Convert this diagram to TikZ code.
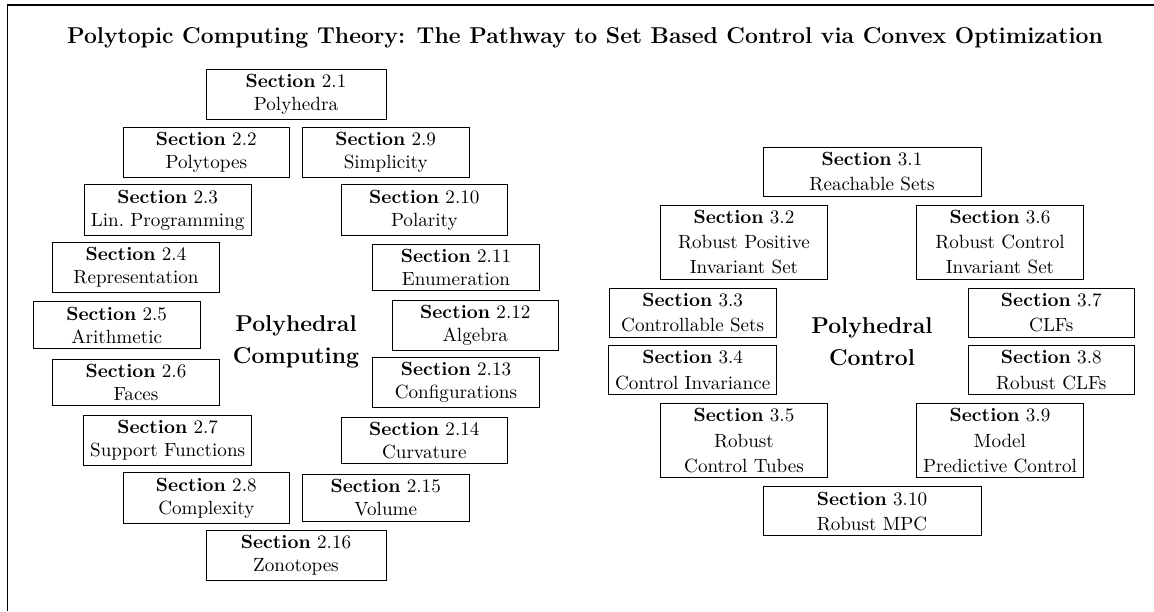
\documentclass[tikz,border=0pt]{standalone}
\usetikzlibrary{positioning}

\begin{document}
\begin{tikzpicture}[
  sec/.style={draw,minimum width=87.3pt,align=center,inner xsep=3.33pt,inner ysep=2.6pt},
  wsec/.style={sec,minimum width=94.1pt},
  csec/.style={sec,font=\linespread{1.1}\selectfont},
  wcsec/.style={csec,minimum width=114.1pt},
  area/.style={font=\large\bfseries,align=center},
  scale=0.984
]
  \useasboundingbox (0,0) rectangle (21.574,-11.423);
  \draw[line width=0.6pt] (0.137,-11.423) |- (21.574,-0.093);

  \node[font=\large\bfseries] (title) at (10.937,-0.704)
    {Polytopic Computing Theory: The Pathway to Set Based Control via Convex Optimization};

  % Polyhedral computing
  \node[wsec] (s21) at (5.534,-1.770) {\textbf{Section} 2.1\\Polyhedra};
  \node[sec] (s22) at (3.857,-2.847) {\textbf{Section} 2.2\\Polytopes};
  \node[sec] (s23) at (3.135,-3.924) {\textbf{Section} 2.3\\Lin.~Programming};
  \node[sec] (s24) at (2.543,-5.000) {\textbf{Section} 2.4\\Representation};
  \node[sec] (s25) at (2.182,-6.077) {\textbf{Section} 2.5\\Arithmetic};
  \node[sec] (s26) at (2.543,-7.154) {\textbf{Section} 2.6\\Faces};
  \node[sec] (s27) at (3.135,-8.231) {\textbf{Section} 2.7\\Support Functions};
  \node[sec] (s28) at (3.857,-9.308) {\textbf{Section} 2.8\\Complexity};
  \node[sec] (s29) at (7.211,-2.847) {\textbf{Section} 2.9\\Simplicity};
  \node[sec] (s210) at (7.933,-3.924) {\textbf{Section} 2.10\\Polarity};
  \node[sec] (s211) at (8.525,-5.000) {\textbf{Section} 2.11\\Enumeration};
  \node[sec] (s212) at (8.886,-6.077) {\textbf{Section} 2.12\\Algebra};
  \node[sec] (s213) at (8.525,-7.154) {\textbf{Section} 2.13\\Configurations};
  \node[sec] (s214) at (7.933,-8.231) {\textbf{Section} 2.14\\Curvature};
  \node[sec] (s215) at (7.211,-9.308) {\textbf{Section} 2.15\\Volume};
  \node[wsec] (s216) at (5.534,-10.384) {\textbf{Section} 2.16\\Zonotopes};
  \node[area] (comp) at (5.534,-6.39) {Polyhedral\\[3pt]Computing};

  % Polyhedral control
  \node[wcsec] (s31) at (16.302,-3.210) {\textbf{Section} 3.1\\Reachable Sets};
  \node[csec] (s32) at (13.909,-4.526) {\textbf{Section} 3.2\\Robust Positive\\Invariant Set};
  \node[csec] (s33) at (12.950,-5.848) {\textbf{Section} 3.3\\Controllable Sets};
  \node[csec] (s34) at (12.950,-6.917) {\textbf{Section} 3.4\\Control Invariance};
  \node[csec] (s35) at (13.909,-8.239) {\textbf{Section} 3.5\\Robust\\Control Tubes};
  \node[csec] (s36) at (18.695,-4.526) {\textbf{Section} 3.6\\Robust Control\\Invariant Set};
  \node[csec] (s37) at (19.654,-5.848) {\textbf{Section} 3.7\\CLFs};
  \node[csec] (s38) at (19.654,-6.917) {\textbf{Section} 3.8\\Robust CLFs};
  \node[csec] (s39) at (18.695,-8.239) {\textbf{Section} 3.9\\Model\\Predictive Control};
  \node[wcsec] (s310) at (16.302,-9.557) {\textbf{Section} 3.10\\Robust MPC};
  \node[area] (ctrl) at (16.302,-6.39) {Polyhedral\\[3pt]Control};
\end{tikzpicture}
\end{document}
